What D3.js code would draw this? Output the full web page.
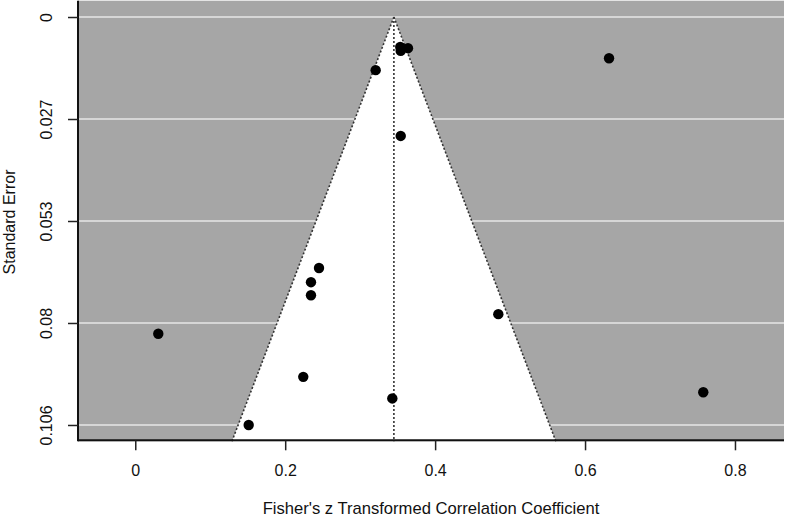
<!DOCTYPE html>
<html>
<head>
<meta charset="utf-8">
<script src="https://cdn.jsdelivr.net/npm/d3@7"></script>
<style>
  html, body { margin: 0; padding: 0; background: #ffffff; }
  svg text { font-family: "Liberation Sans", Arial, Helvetica, sans-serif; fill: #111; }
</style>
</head>
<body>
<svg id="chart" width="786" height="517"></svg>
<script>
// ---- data ----
const studyEffect = [0.632, 0.3535, 0.3541, 0.3638, 0.3207, 0.3541, 0.2451, 0.2344, 0.2344, 0.2241, 0.1513, 0.0307, 0.4843, 0.3429, 0.7577];
const studySE     = [0.0107, 0.0078, 0.0088, 0.0081, 0.0138, 0.0309, 0.0652, 0.0689, 0.0723, 0.0935, 0.1060, 0.0823, 0.0772, 0.0991, 0.0975];
const pooledEstimate = 0.345;
const xTicks = [0, 0.2, 0.4, 0.6, 0.8];
const xTickLabels = ["0", "0.2", "0.4", "0.6", "0.8"];
const yTicks = [0, 0.0265, 0.053, 0.0795, 0.106];
const yTickLabels = ["0", "0.027", "0.053", "0.08", "0.106"];
const xTitle = "Fisher's z Transformed Correlation Coefficient";
const yTitle = "Standard Error";

// ---- layout ----
(function () {
const svg = d3.select("#chart");
const xDomain = [-0.0764, 0.8654];
const yDomain = [-0.00424, 0.11024];
const x = d3.scaleLinear().domain(xDomain).range([78, 784]);
const y = d3.scaleLinear().domain(yDomain).range([0.7, 441.3]);

const pLeft = x(xDomain[0]), pRight = x(xDomain[1]);
const pTop = y(yDomain[0]), pBottom = y(yDomain[1]);

// grey background
svg.append("rect")
  .attr("x", pLeft).attr("y", pTop)
  .attr("width", pRight - pLeft).attr("height", pBottom - pTop)
  .attr("fill", "#a6a6a6");

// horizontal grid lines
svg.append("g").selectAll("line").data(yTicks).join("line")
  .attr("x1", pLeft).attr("x2", pRight)
  .attr("y1", d => y(d)).attr("y2", d => y(d))
  .attr("stroke", "#d6d6d6").attr("stroke-width", 2);

// funnel (white region)
const seBottom = yDomain[1];
const funnel = [
  [pooledEstimate, 0],
  [pooledEstimate - 1.96 * seBottom, seBottom],
  [pooledEstimate + 1.96 * seBottom, seBottom]
];
svg.append("path")
  .attr("d", "M" + funnel.map(p => [x(p[0]), y(p[1])].join(",")).join("L") + "Z")
  .attr("fill", "#ffffff");

// funnel borders and vertical line (dotted)
const lineGen = d3.line().x(p => x(p[0])).y(p => y(p[1]));
[[funnel[0], funnel[1]], [funnel[0], funnel[2]], [[pooledEstimate, 0], [pooledEstimate, seBottom]]].forEach(seg => {
  svg.append("path").attr("d", lineGen(seg))
    .attr("fill", "none").attr("stroke", "#333")
    .attr("stroke-width", 1.6).attr("stroke-dasharray", "2,2");
});

// points
svg.append("g").selectAll("circle").data(studyEffect).join("circle")
  .attr("cx", d => x(d))
  .attr("cy", (d, i) => y(studySE[i]))
  .attr("r", 5.2)
  .attr("fill", "#000");

// axes
const xAxis = d3.axisBottom(x).tickValues(xTicks).tickFormat((d, i) => xTickLabels[i]).tickSize(10).tickPadding(14);
const gx = svg.append("g").attr("transform", `translate(0,${pBottom - 1})`).call(xAxis);
gx.select(".domain").attr("d", `M${pLeft},0H${pRight}`).attr("stroke", "#111").attr("stroke-width", 2);
gx.selectAll(".tick line").attr("stroke", "#222").attr("stroke-width", 1.5);
gx.selectAll(".tick text").attr("font-size", 16).style("font-family", "'Liberation Sans', Arial, sans-serif").attr("fill", "#111");

const yAxis = d3.axisLeft(y).tickValues(yTicks).tickFormat((d, i) => yTickLabels[i]).tickSize(10);
const gy = svg.append("g").attr("transform", `translate(${pLeft},0)`).call(yAxis);
gy.select(".domain").attr("d", `M0,${pTop}V${pBottom}`).attr("stroke", "#111").attr("stroke-width", 2);
gy.selectAll(".tick line").attr("stroke", "#222").attr("stroke-width", 1.5);
gy.selectAll(".tick text")
  .attr("font-size", 16).style("font-family", "'Liberation Sans', Arial, sans-serif").attr("fill", "#111")
  .attr("x", null).attr("dy", null)
  .attr("text-anchor", "middle")
  .attr("transform", "translate(-30,0) rotate(-90)")
  .attr("y", 0).attr("dominant-baseline", "middle");

// axis titles
svg.append("text")
  .attr("x", 431).attr("y", 510)
  .attr("text-anchor", "middle").attr("dominant-baseline", "middle")
  .attr("font-size", 16.6)
  .text(xTitle);

svg.append("text")
  .attr("transform", `translate(11,${y(0.053) + 1}) rotate(-90)`)
  .attr("text-anchor", "middle").attr("dominant-baseline", "middle")
  .attr("font-size", 16)
  .text(yTitle);
})();
</script>
</body>
</html>
